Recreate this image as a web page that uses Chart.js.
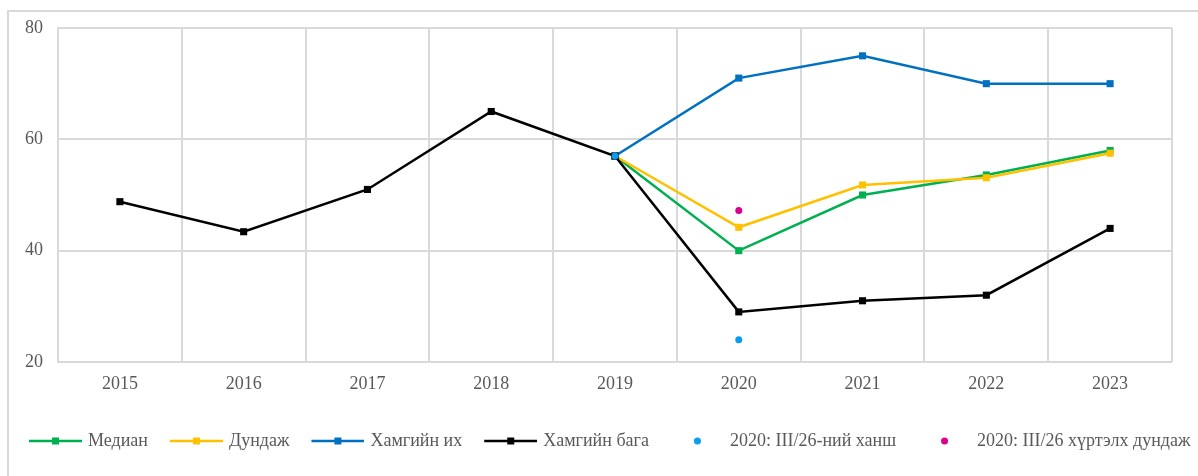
<!DOCTYPE html>
<html><head><meta charset="utf-8">
<script src="https://cdn.jsdelivr.net/npm/chart.js@4.4.1/dist/chart.umd.min.js"></script>
<style>
html,body{margin:0;padding:0;background:#fff;overflow:hidden;width:1198px;height:476px;}
#frame{position:absolute;left:7px;top:10px;width:1300px;height:600px;border:2px solid #d9d9d9;box-sizing:border-box;}
#wrap{position:absolute;left:0;top:0;width:1198px;height:476px;}
</style></head><body>
<div id="frame"></div>
<div id="wrap"><canvas id="c"></canvas></div>
<script>
const categories = ['2015','2016','2017','2018','2019','2020','2021','2022','2023'];
const median     = [null, null, null, null, 57, 40, 50, 53.6, 58];
const average    = [null, null, null, null, 57, 44.2, 51.8, 53.1, 57.5];
const maximum    = [null, null, null, null, 57, 71, 75, 70, 70];
const minimum    = [48.8, 43.4, 51, 65, 57, 29, 31, 32, 44];
const rateMar26  = [null, null, null, null, 57, 24, null, null, null];
const avgToMar26 = [null, null, null, null, null, 47.2, null, null, null];
const yTicks = [20, 40, 60, 80];
const seriesNames = ['Медиан','Дундаж','Хамгийн их','Хамгийн бага','2020: III/26-ний ханш','2020: III/26 хүртэлх дундаж'];

const C = {green:'#00b050', yellow:'#ffc000', blue:'#0070c0', black:'#000000', cyan:'#0a9cf0', magenta:'#d9008f'};
const textColor = '#595959';
const font = "'Liberation Serif', 'Times New Roman', serif";

// legend geometry
const LP = 1;            // legend item padding
const BW = 71;           // legend box width
const SHIFT = BW - 50;   // where the 53px icon starts inside the box
const IW = 2*(SHIFT+53) - BW; // icon canvas width (drawn centred in the box)
const OFF = SHIFT + (IW - BW)/2;

function lineIcon(color){
  const c=document.createElement('canvas'); c.width=IW; c.height=10;
  const g=c.getContext('2d'); g.strokeStyle=color; g.lineWidth=2.5;
  g.beginPath(); g.moveTo(OFF,5); g.lineTo(OFF+53,5); g.stroke();
  g.fillStyle=color; g.fillRect(OFF+23,1.5,7,7); return c;
}
function dotIcon(color){
  const c=document.createElement('canvas'); c.width=IW; c.height=10;
  const g=c.getContext('2d'); g.fillStyle=color;
  g.beginPath(); g.arc(OFF+26.5,5,3.5,0,Math.PI*2); g.fill(); return c;
}
const icons=[lineIcon(C.green),lineIcon(C.yellow),lineIcon(C.blue),lineIcon(C.black),dotIcon(C.cyan),dotIcon(C.magenta)];

function lineDs(label,data,color,order){
  return {label,data,borderColor:color,backgroundColor:color,borderWidth:2.5,pointStyle:'rect',
    pointRadius:5,pointHoverRadius:5,pointBorderWidth:0,pointBackgroundColor:color,spanGaps:false,order,tension:0};
}
function dotDs(label,data,color,order){
  return {label,data,borderColor:color,backgroundColor:color,showLine:false,pointStyle:'circle',
    pointRadius:3.5,pointBorderWidth:0,pointBackgroundColor:color,order};
}

new Chart(document.getElementById('c'),{
  type:'line',
  data:{labels:categories,datasets:[
    lineDs(seriesNames[0],median,C.green,6),
    lineDs(seriesNames[1],average,C.yellow,5),
    lineDs(seriesNames[2],maximum,C.blue,4),
    lineDs(seriesNames[3],minimum,C.black,3),
    dotDs(seriesNames[4],rateMar26,C.cyan,2),
    dotDs(seriesNames[5],avgToMar26,C.magenta,1)
  ]},
  options:{
    responsive:true,maintainAspectRatio:false,animation:false,
    layout:{padding:{left:7,top:28,right:0,bottom:16}},
    plugins:{
      tooltip:{enabled:false},
      legend:{position:'bottom',align:'start',
        labels:{usePointStyle:true,pointStyleWidth:BW,padding:LP,color:textColor,
          font:{family:font,size:18},
          sort:(a,b)=>a.datasetIndex-b.datasetIndex,
          generateLabels(chart){
            const items=Chart.defaults.plugins.legend.labels.generateLabels(chart);
            items.forEach(it=>{it.pointStyle=icons[it.datasetIndex];});
            return items;
          }}}
    },
    scales:{
      x:{offset:true,
        grid:{offset:true,color:'#d9d9d9',lineWidth:2,drawTicks:false},
        border:{display:false},
        ticks:{color:textColor,font:{family:font,size:18},padding:11,maxRotation:0},
        afterFit(s){s.height=69;}
      },
      y:{min:20,max:80,
        afterBuildTicks(s){s.ticks=yTicks.map(v=>({value:v}));},
        grid:{color:'#d9d9d9',lineWidth:2,drawTicks:false},
        border:{display:true,color:'#d9d9d9',width:2},
        ticks:{color:textColor,font:{family:font,size:18},padding:15},
        afterFit(s){s.width=51;}
      },
      yRight:{position:'right',min:0,max:1,
        grid:{display:false,drawTicks:false},border:{display:false},
        ticks:{display:false},
        afterFit(s){s.width=26;}
      }
    }
  }
});
</script>
</body></html>
